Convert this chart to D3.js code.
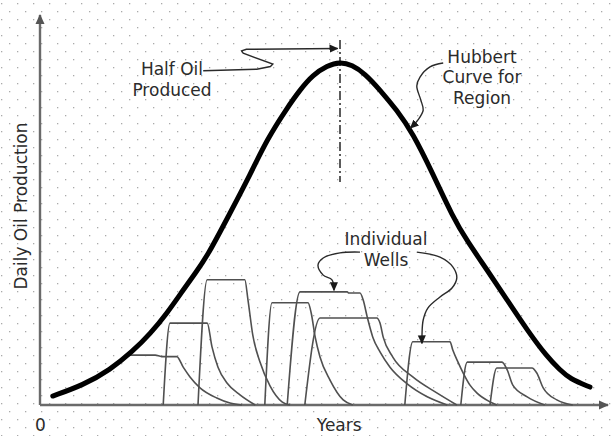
<!DOCTYPE html>
<html>
<head>
<meta charset="utf-8">
<script src="https://cdn.jsdelivr.net/npm/d3@7"></script>
<style>
  html, body { margin: 0; padding: 0; background: #fff; }
  svg text { font-family: "DejaVu Sans", Verdana, sans-serif; font-size: 17px; fill: #2b2b2b; }
</style>
</head>
<body>
<div id="chart"></div>
<script>
// regional production, [year, daily output]
const hubbertCurve = [
  [1.6, 2.3], [5.4, 5.1], [8.75, 9.0], [11.6, 13.8], [13.75, 18.2], [15.9, 23.6],
  [17.9, 29.5], [19.4, 33.8], [20.9, 38.1], [23.75, 49.2], [26.25, 59.0], [28.4, 68.2], [30.9, 76.2],
  [32.5, 80.8], [34.1, 84.6], [35.9, 87.0], [37.5, 88.0], [39.0, 87.2], [40.6, 85.0],
  [42.5, 80.8], [44.6, 75.6], [46.6, 69.7], [49.1, 59.3], [51.6, 48.2], [53.4, 42.0],
  [55.9, 34.6], [58.4, 26.9], [60.9, 19.2], [63.4, 12.3], [65.0, 9.0], [66.25, 6.7],
  [68.75, 4.6]
];

// single wells: rise, plateau, decline
const well1 = [[10.9, 12.8], [14.4, 12.8], [15.2, 12.4], [17.1, 12.4], [17.9, 9.7], [18.75, 7.2],
  [20.0, 4.4], [22.1, 1.8], [23.75, 0.5], [25.25, 0]];
const well2 = [[15.4, 0], [16.25, 21.0], [20.9, 21.0], [21.5, 14.9], [22.25, 9.7], [23.4, 5.6],
  [25.0, 2.6], [26.9, 0]];
const well3 = [[19.75, 0], [20.9, 32.1], [25.6, 32.1], [26.0, 26.9], [26.6, 17.9], [27.5, 11.0],
  [28.75, 4.9], [30.25, 0.8], [31.25, 0]];
const well4 = [[28.1, 0], [29.0, 26.2], [33.5, 26.2], [33.9, 23.6], [34.4, 17.4], [35.0, 12.3],
  [36.25, 6.4], [37.9, 1.3], [39.1, 0]];
const well5 = [[30.9, 0], [32.5, 29.0], [38.4, 29.0], [38.6, 28.7], [40.0, 28.7], [40.4, 26.9],
  [40.9, 22.6], [41.6, 17.4], [42.5, 13.6], [43.75, 9.7], [45.9, 5.4], [48.4, 2.1], [50.9, 0]];
const well6 = [[33.1, 0], [35.0, 22.3], [42.1, 22.3], [42.5, 21.0], [42.9, 17.4], [44.1, 12.3],
  [46.6, 7.2], [49.6, 3.1], [52.1, 0]];
const well7 = [[45.6, 0], [46.6, 16.2], [51.25, 16.2], [51.6, 14.1], [52.25, 11.0], [52.9, 8.2],
  [53.75, 5.1], [54.6, 3.1], [56.25, 0.8], [57.1, 0]];
const well8 = [[52.6, 0], [53.4, 11.0], [57.75, 11.0], [58.4, 9.0], [59.1, 5.1], [60.9, 2.1], [63.1, 0]];
const well9 = [[56.25, 0], [57.1, 9.5], [61.5, 9.5], [62.1, 8.2], [62.9, 4.4], [64.6, 1.3], [66.6, 0]];
const wells = [well1, well2, well3, well4, well5, well6, well7, well8, well9];

const halfOilYear = 37.5;
const halfOilSpan = [57.2, 93.6];
const xTicks = [0];
const xTitle = "Years";
const yTitle = "Daily Oil Production";

// annotation text and pointer lines
const notes = [
  {lines: ["Half Oil", "Produced"], year: 16.5, output: 84.6},
  {lines: ["Hubbert", "Curve for", "Region"], year: 55.25, output: 87.7},
  {lines: ["Individual", "Wells"], year: 43.25, output: 41.0}
];
const halfOilPointer = [[20.4, 85.7], [27.1, 86.1], [28.8, 86.8], [29.1, 87.4], [25.4, 90.2],
  [25.2, 90.8], [25.8, 91.2], [37.2, 91.4]];
const hubbertPointer = [[50.4, 87.7], [48.75, 86.7], [47.5, 84.1], [47.1, 81.8], [47.6, 78.2],
  [47.9, 75.6], [47.25, 73.1], [46.3, 71.0]];
const wellPointerLeft = [[40.0, 39.2], [37.5, 39.0], [35.4, 37.7], [34.75, 35.9], [35.4, 33.3],
  [36.5, 32.1], [36.75, 29.4]];
const wellPointerRight = [[47.1, 39.2], [50.0, 37.9], [51.6, 35.4], [52.1, 32.6], [51.5, 30.0],
  [50.0, 27.7], [48.5, 24.9], [47.9, 21.8], [47.75, 17.9], [47.75, 15.8]];

const width = 611, height = 436;

const x = d3.scaleLinear().domain([0, 71]).range([40, 608]);
const y = d3.scaleLinear().domain([0, 100]).range([405, 15]);

const svg = d3.select("#chart").append("svg")
  .attr("width", width)
  .attr("height", height);

const defs = svg.append("defs");

// dotted paper
const pat = defs.append("pattern")
  .attr("id", "dots")
  .attr("patternUnits", "userSpaceOnUse")
  .attr("width", 16).attr("height", 16);
pat.append("rect").attr("x", 1).attr("y", 3).attr("width", 1.3).attr("height", 1.3).attr("fill", "#aaa");
pat.append("rect").attr("x", 9).attr("y", 11).attr("width", 1.3).attr("height", 1.3).attr("fill", "#aaa");

svg.append("rect")
  .attr("width", width).attr("height", height)
  .attr("fill", "url(#dots)");

function arrowMarker(id, color, size) {
  defs.append("marker")
    .attr("id", id)
    .attr("viewBox", "0 -5 10 10")
    .attr("refX", 9).attr("refY", 0)
    .attr("markerUnits", "userSpaceOnUse")
    .attr("markerWidth", size).attr("markerHeight", size)
    .attr("orient", "auto")
    .append("path")
    .attr("d", "M0,-4.5L10,0L0,4.5Z")
    .attr("fill", color);
}
arrowMarker("axisArrow", "#555", 10);
arrowMarker("noteArrow", "#1a1a1a", 9);

const line = d3.line().x(d => x(d[0])).y(d => y(d[1]));

// axes
svg.append("path")
  .attr("d", line([[0, 0], [0, 100]]))
  .attr("stroke", "#6a6a6a").attr("stroke-width", 2.4).attr("fill", "none")
  .attr("marker-end", "url(#axisArrow)");
svg.append("path")
  .attr("d", line([[0, 0], [71, 0]]))
  .attr("stroke", "#6a6a6a").attr("stroke-width", 2.4).attr("fill", "none")
  .attr("marker-end", "url(#axisArrow)");

const xAxis = svg.append("g")
  .attr("transform", "translate(0," + y(0) + ")")
  .call(d3.axisBottom(x).tickValues(xTicks).tickSize(0).tickPadding(14));
xAxis.select(".domain").remove();

svg.append("text")
  .attr("x", x(37.4)).attr("y", 431)
  .attr("text-anchor", "middle")
  .text(xTitle);

svg.append("text")
  .attr("transform", "translate(27," + ((y(0) + y(100)) / 2 - 4) + ") rotate(-90)")
  .attr("text-anchor", "middle")
  .text(yTitle);

// wells
const wellLine = d3.line()
  .x(d => x(d[0])).y(d => y(d[1]))
  .curve(d3.curveMonotoneX);

svg.selectAll(".well")
  .data(wells)
  .enter()
  .append("path")
  .attr("class", "well")
  .attr("d", wellLine)
  .attr("fill", "none")
  .attr("stroke", "#505050")
  .attr("stroke-width", 1.6);

// half-oil marker
svg.append("path")
  .attr("d", line([[halfOilYear, halfOilSpan[1]], [halfOilYear, halfOilSpan[0]]]))
  .attr("stroke", "#333").attr("stroke-width", 1.6)
  .attr("stroke-dasharray", "9,3,2,3")
  .attr("fill", "none");

// hubbert curve
svg.append("path")
  .attr("d", d3.line().x(d => x(d[0])).y(d => y(d[1])).curve(d3.curveBasis)(hubbertCurve))
  .attr("fill", "none")
  .attr("stroke", "#000")
  .attr("stroke-width", 5)
  .attr("stroke-linecap", "round");

// pointers
const smooth = d3.line().x(d => x(d[0])).y(d => y(d[1])).curve(d3.curveCatmullRom.alpha(0.5));
[halfOilPointer, hubbertPointer, wellPointerLeft, wellPointerRight].forEach(p => {
  svg.append("path")
    .attr("d", p === halfOilPointer ? line(p) : smooth(p))
    .attr("fill", "none")
    .attr("stroke", "#2a2a2a")
    .attr("stroke-width", 1.4)
    .attr("marker-end", "url(#noteArrow)");
});

// labels
notes.forEach(n => {
  const t = svg.append("text")
    .attr("x", x(n.year)).attr("y", y(n.output))
    .attr("text-anchor", "middle");
  n.lines.forEach((s, i) => {
    t.append("tspan")
      .attr("x", x(n.year))
      .attr("dy", i === 0 ? 0 : 20.5)
      .text(s);
  });
});
</script>
</body>
</html>
